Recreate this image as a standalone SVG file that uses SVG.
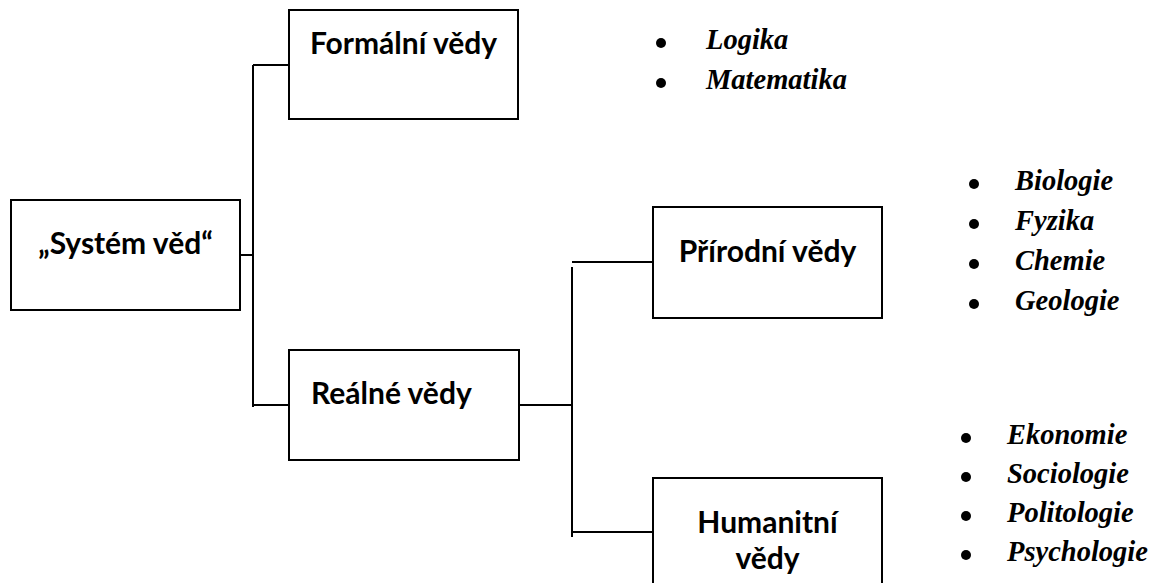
<svg xmlns="http://www.w3.org/2000/svg" width="1158" height="583" viewBox="0 0 1158 583">
<style>
.box{fill:#fff;stroke:#000;stroke-width:2}
.lbl{font-family:Lato,"Open Sans","DejaVu Sans",sans-serif;font-weight:bold;font-size:30px;fill:#000}
.it{font-family:"Liberation Serif","Times New Roman",serif;font-weight:bold;font-style:italic;font-size:28.5px;fill:#000}
.con{fill:none;stroke:#000;stroke-width:2}
.dot{fill:#000}
</style>
<rect width="1158" height="583" fill="#fff"/>
<g id="connectors">
<path class="con" d="M240 255H253M253 65V407M253 65H289M253 405H289"/>
<path class="con" d="M519 405H572M572 267V537M572 262H653M572 532H653"/>
</g>
<g id="node-system">
<rect class="box" x="11" y="200" width="229" height="110"/>
<text class="lbl" x="125.5" y="254" text-anchor="middle">„Systém věd“</text>
</g>
<g id="node-formalni">
<rect class="box" x="289" y="10" width="229" height="109"/>
<text class="lbl" x="403.5" y="54" text-anchor="middle">Formální vědy</text>
</g>
<g id="node-realne">
<rect class="box" x="289" y="350" width="230" height="110"/>
<text class="lbl" x="311" y="404">Reálné vědy</text>
</g>
<g id="node-prirodni">
<rect class="box" x="653" y="207" width="229" height="111"/>
<text class="lbl" x="767.5" y="262" text-anchor="middle">Přírodní vědy</text>
</g>
<g id="node-humanitni">
<rect class="box" x="653" y="478" width="229" height="120"/>
<text class="lbl" x="767.5" y="533" text-anchor="middle">Humanitní</text>
<text class="lbl" x="767.5" y="569" text-anchor="middle">vědy</text>
</g>
<g id="list-formalni">
<circle class="dot" cx="661" cy="43" r="5"/>
<circle class="dot" cx="661" cy="83" r="5"/>
<text class="it" x="706" y="49">Logika</text>
<text class="it" x="706" y="89">Matematika</text>
</g>
<g id="list-prirodni">
<circle class="dot" cx="974" cy="184" r="5"/>
<circle class="dot" cx="974" cy="224" r="5"/>
<circle class="dot" cx="974" cy="264" r="5"/>
<circle class="dot" cx="974" cy="304" r="5"/>
<text class="it" x="1015" y="190">Biologie</text>
<text class="it" x="1015" y="230">Fyzika</text>
<text class="it" x="1015" y="270">Chemie</text>
<text class="it" x="1015" y="310">Geologie</text>
</g>
<g id="list-humanitni">
<circle class="dot" cx="966" cy="438" r="5"/>
<circle class="dot" cx="966" cy="477" r="5"/>
<circle class="dot" cx="966" cy="516" r="5"/>
<circle class="dot" cx="966" cy="555" r="5"/>
<text class="it" x="1007" y="444">Ekonomie</text>
<text class="it" x="1007" y="483">Sociologie</text>
<text class="it" x="1007" y="522">Politologie</text>
<text class="it" x="1007" y="561">Psychologie</text>
</g>
</svg>
